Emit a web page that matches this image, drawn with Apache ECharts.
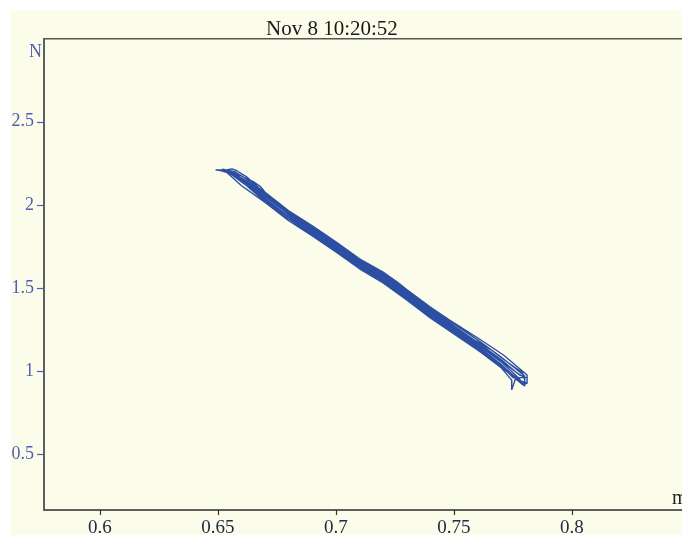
<!DOCTYPE html>
<html>
<head>
<meta charset="utf-8">
<script src="https://cdn.jsdelivr.net/npm/echarts@6/dist/echarts.min.js"></script>
<style>
  html, body { margin: 0; padding: 0; background: #ffffff; }
  #wrap { position: relative; width: 682px; height: 535px; overflow: hidden; background: #ffffff; }
  #chart { position: absolute; left: 11px; top: 10px; width: 671px; height: 525px; background: #fcfcea; }
</style>
</head>
<body>
<div id="wrap"><div id="chart"></div></div>
<script>
const titleText = 'Nov 8 10:20:52';
const xTickValues = [0.6, 0.65, 0.7, 0.75, 0.8];
const yTickValues = [0.5, 1, 1.5, 2, 2.5];
const xRange = [0.5763, 0.8475];
const yRange = [0.163, 3.0];

// Traced passes of the trajectory (x, y)
const passA = [[0.649,2.211],[0.655,2.198],[0.660,2.160],[0.670,2.060],[0.680,1.950],[0.690,1.858],[0.700,1.760],[0.710,1.660],[0.720,1.572],[0.730,1.470],[0.740,1.362],[0.750,1.262],[0.760,1.165],[0.770,1.060],[0.778,0.975],[0.781,0.958],[0.781,0.925]];
const passB = [[0.779,0.918],[0.770,1.030],[0.760,1.140],[0.750,1.238],[0.740,1.335],[0.730,1.440],[0.720,1.545],[0.710,1.632],[0.700,1.735],[0.690,1.830],[0.680,1.925],[0.670,2.030],[0.662,2.120],[0.656,2.190],[0.654,2.212]];
const passC = [[0.656,2.216],[0.658,2.205],[0.662,2.170],[0.670,2.070],[0.680,1.960],[0.690,1.865],[0.700,1.770],[0.710,1.675],[0.720,1.595],[0.726,1.535],[0.730,1.490],[0.740,1.385],[0.748,1.307],[0.760,1.200],[0.771,1.096],[0.781,0.976],[0.781,0.928]];
const passD = [[0.781,0.930],[0.776,0.950],[0.7745,0.886],[0.7745,0.945],[0.770,1.020],[0.760,1.128],[0.750,1.228],[0.740,1.325],[0.730,1.430],[0.720,1.535],[0.710,1.625],[0.700,1.725],[0.690,1.820],[0.680,1.915],[0.670,2.020],[0.663,2.105],[0.658,2.170],[0.655,2.205],[0.652,2.215]];
const passE = [[0.652,2.215],[0.657,2.200],[0.661,2.165],[0.665,2.140],[0.668,2.110],[0.672,2.040],[0.680,1.945],[0.690,1.850],[0.700,1.755],[0.710,1.655],[0.720,1.565],[0.730,1.462],[0.740,1.355],[0.750,1.258],[0.760,1.160],[0.770,1.055],[0.778,0.950]];
const passF = [[0.778,0.935],[0.770,1.040],[0.760,1.150],[0.750,1.248],[0.740,1.345],[0.734,1.418],[0.730,1.470],[0.724,1.540],[0.718,1.600],[0.710,1.670],[0.700,1.760],[0.690,1.855],[0.680,1.942],[0.670,2.050],[0.660,2.150],[0.654,2.200],[0.651,2.212]];
const passG = [[0.653,2.208],[0.660,2.155],[0.670,2.055],[0.680,1.940],[0.690,1.848],[0.700,1.750],[0.710,1.648],[0.720,1.562],[0.730,1.455],[0.740,1.345],[0.750,1.245],[0.755,1.215],[0.760,1.175],[0.766,1.125],[0.772,1.060],[0.779,0.990],[0.780,0.945]];
const passH = [[0.780,0.920],[0.772,1.010],[0.765,1.080],[0.760,1.135],[0.750,1.235],[0.740,1.330],[0.730,1.445],[0.720,1.550],[0.710,1.638],[0.700,1.740],[0.690,1.836],[0.680,1.928],[0.670,2.036],[0.660,2.138],[0.655,2.190],[0.650,2.210]];
const passI = [[0.650,2.210],[0.656,2.195],[0.662,2.145],[0.670,2.065],[0.680,1.955],[0.690,1.862],[0.700,1.765],[0.710,1.668],[0.720,1.580],[0.730,1.480],[0.740,1.372],[0.750,1.272],[0.760,1.172],[0.770,1.068],[0.777,0.985],[0.780,0.960]];
const passJ = [[0.780,0.950],[0.775,0.960],[0.770,1.035],[0.760,1.145],[0.750,1.242],[0.740,1.338],[0.730,1.452],[0.720,1.555],[0.710,1.642],[0.700,1.744],[0.690,1.840],[0.680,1.930],[0.670,2.040],[0.660,2.140],[0.655,2.200]];
const passK = [[0.655,2.205],[0.660,2.175],[0.670,2.075],[0.680,1.964],[0.690,1.873],[0.700,1.777],[0.710,1.675],[0.720,1.590],[0.730,1.488],[0.740,1.379],[0.750,1.283],[0.760,1.187],[0.770,1.084],[0.780,0.970]];
const passL = [[0.780,0.910],[0.770,1.024],[0.760,1.127],[0.750,1.223],[0.740,1.319],[0.730,1.428],[0.720,1.530],[0.710,1.615],[0.700,1.717],[0.690,1.813],[0.680,1.904],[0.670,2.015],[0.660,2.115],[0.653,2.205]];

const trace = [].concat(passA, passB, passC, passD, passE, passF, passG, passH, passI, passJ, passK, passL);

const chart = echarts.init(document.getElementById('chart'), null, { renderer: 'canvas' });
const serif = '"Liberation Serif", "DejaVu Serif", serif';
chart.setOption({
  animation: false,
  backgroundColor: '#fcfcea',
  title: {
    text: titleText,
    left: 250, top: 4,
    textStyle: { fontFamily: serif, fontSize: 21, fontWeight: 'normal', color: '#1a1a1a' }
  },
  grid: {
    left: 33, top: 28.7, right: -2, bottom: 25,
    outerBoundsMode: 'none', containLabel: false,
    show: true, borderColor: '#555555', borderWidth: 1.5, backgroundColor: 'transparent'
  },
  xAxis: {
    type: 'value', min: xRange[0], max: xRange[1],
    splitLine: { show: false },
    axisLine: { show: true, lineStyle: { color: '#555555', width: 1.5 } },
    axisTick: { show: true, length: 5, customValues: xTickValues, lineStyle: { color: '#333333', width: 1.2 } },
    axisLabel: {
      customValues: xTickValues, margin: 9,
      fontFamily: serif, fontSize: 19, color: '#222a48',
      formatter: v => String(v)
    }
  },
  yAxis: {
    type: 'value', min: yRange[0], max: yRange[1],
    splitLine: { show: false },
    axisLine: { show: true, lineStyle: { color: '#555555', width: 1.5 } },
    axisTick: { show: true, length: 7, customValues: yTickValues, lineStyle: { color: '#4d5fb5', width: 1.2 } },
    axisLabel: {
      customValues: yTickValues, margin: 10,
      fontFamily: serif, fontSize: 18, color: '#4d5fb5',
      formatter: v => String(v)
    }
  },
  graphic: [
    { type: 'text', left: 18, top: 33, style: { text: 'N', fontFamily: serif, fontSize: 18, fill: '#4d5fb5' } },
    { type: 'text', left: 661, top: 479, style: { text: 'm', fontFamily: serif, fontSize: 20, fill: '#222222' } }
  ],
  series: [{
    type: 'line',
    data: trace,
    showSymbol: false,
    symbol: 'none',
    smooth: false,
    lineStyle: { color: '#2c4ea3', width: 1.4 },
    clip: true
  }]
});
</script>
</body>
</html>
